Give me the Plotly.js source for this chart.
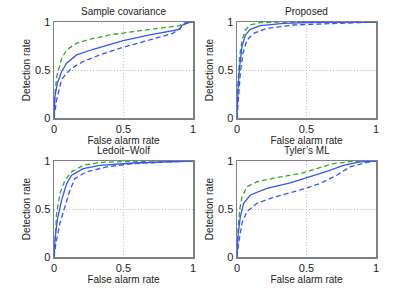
<!DOCTYPE html>
<html><head><meta charset="utf-8">
<script src="https://cdn.plot.ly/plotly-3.0.1.min.js"></script>
<style>html,body{margin:0;padding:0;background:#fff}#chart{width:415px;height:293px}</style>
</head><body><div id="chart"></div>
<script>
// Panel titles
const panelTitles = ["Sample covariance", "Proposed", "Ledoit\u2212Wolf", "Tyler\u2019s ML"];
const xTitle = "False alarm rate";
const yTitle = "Detection rate";
const tickVals = [0, 0.5, 1];
const tickText = ["0", "0.5", "1"];

// Sample covariance
const scSolidX = [0, 0.003, 0.007, 0.024, 0.055, 0.091, 0.163, 0.282, 0.498, 0.689, 0.904, 0.916, 0.952, 1];
const scSolidY = [0, 0.12, 0.225, 0.363, 0.484, 0.571, 0.657, 0.716, 0.806, 0.865, 0.924, 0.958, 0.993, 1];
const scBlueDashX = [0, 0.008, 0.019, 0.055, 0.091, 0.127, 0.21, 0.33, 0.498, 0.689, 0.856, 0.916, 0.952, 1];
const scBlueDashY = [0, 0.08, 0.19, 0.40, 0.467, 0.519, 0.588, 0.657, 0.737, 0.813, 0.882, 0.945, 0.986, 1];
const scGreenDashX = [0, 0.004, 0.019, 0.055, 0.091, 0.163, 0.258, 0.40, 0.57, 0.737, 0.904, 0.923, 1];
const scGreenDashY = [0, 0.2, 0.43, 0.62, 0.71, 0.78, 0.82, 0.865, 0.90, 0.934, 0.962, 0.986, 1];

// Proposed
const prSolidX = [0, 0.003, 0.007, 0.019, 0.036, 0.06, 0.096, 0.167, 0.335, 0.574, 1];
const prSolidY = [0, 0.15, 0.294, 0.536, 0.744, 0.865, 0.924, 0.962, 0.986, 0.997, 1];
const prBlueDashX = [0, 0.005, 0.012, 0.024, 0.043, 0.072, 0.12, 0.215, 0.407, 0.694, 1];
const prBlueDashY = [0, 0.1, 0.225, 0.467, 0.675, 0.813, 0.882, 0.934, 0.969, 0.986, 1];
const prGreenDashX = [0, 0.003, 0.007, 0.019, 0.036, 0.06, 0.096, 0.167, 0.335, 1];
const prGreenDashY = [0, 0.2, 0.363, 0.64, 0.81, 0.917, 0.969, 0.993, 1, 1];

// Ledoit-Wolf
const lwSolidX = [0, 0.007, 0.024, 0.055, 0.091, 0.127, 0.21, 0.33, 0.57, 0.81, 1];
const lwSolidY = [0, 0.18, 0.39, 0.595, 0.766, 0.852, 0.921, 0.955, 0.979, 0.993, 1];
const lwBlueDashX = [0, 0.014, 0.043, 0.079, 0.115, 0.151, 0.234, 0.378, 0.57, 0.81, 1];
const lwBlueDashY = [0, 0.148, 0.354, 0.526, 0.698, 0.818, 0.887, 0.938, 0.973, 0.99, 1];
const lwGreenDashX = [0, 0.007, 0.019, 0.043, 0.079, 0.127, 0.21, 0.33, 0.57, 1];
const lwGreenDashY = [0, 0.216, 0.457, 0.663, 0.80, 0.887, 0.955, 0.986, 0.997, 1];

// Tyler's ML
const tySolidX = [0, 0.007, 0.024, 0.048, 0.096, 0.215, 0.383, 0.526, 0.646, 0.766, 0.885, 1];
const tySolidY = [0, 0.216, 0.423, 0.56, 0.646, 0.715, 0.773, 0.835, 0.893, 0.955, 0.99, 1];
const tyBlueDashX = [0, 0.012, 0.036, 0.072, 0.144, 0.263, 0.455, 0.598, 0.718, 0.813, 0.933, 1];
const tyBlueDashY = [0, 0.148, 0.354, 0.474, 0.56, 0.622, 0.698, 0.766, 0.852, 0.938, 0.986, 1];
const tyGreenDashX = [0, 0.007, 0.019, 0.036, 0.072, 0.144, 0.287, 0.455, 0.574, 0.694, 0.813, 1];
const tyGreenDashY = [0, 0.285, 0.49, 0.629, 0.732, 0.784, 0.828, 0.869, 0.921, 0.973, 0.993, 1];

const blue = "#3355ff";
const green = "#33aa22";
const dashPat = "5px,3px";

const panels = [
  [scSolidX, scSolidY, scBlueDashX, scBlueDashY, scGreenDashX, scGreenDashY],
  [prSolidX, prSolidY, prBlueDashX, prBlueDashY, prGreenDashX, prGreenDashY],
  [lwSolidX, lwSolidY, lwBlueDashX, lwBlueDashY, lwGreenDashX, lwGreenDashY],
  [tySolidX, tySolidY, tyBlueDashX, tyBlueDashY, tyGreenDashX, tyGreenDashY]
];

const traces = [];
panels.forEach((p, i) => {
  const xa = i === 0 ? "x" : "x" + (i + 1);
  const ya = i === 0 ? "y" : "y" + (i + 1);
  traces.push({x: p[4], y: p[5], xaxis: xa, yaxis: ya, mode: "lines", line: {color: green, width: 1.3, dash: dashPat}});
  traces.push({x: p[2], y: p[3], xaxis: xa, yaxis: ya, mode: "lines", line: {color: blue, width: 1.3, dash: dashPat}});
  traces.push({x: p[0], y: p[1], xaxis: xa, yaxis: ya, mode: "lines", line: {color: blue, width: 1.3}});
});

const fam = "Liberation Sans, Arial, sans-serif";
const txtColor = "#222";
const xDomains = [[54/415, 193/415], [237/415, 376/415]];
const yDomains = [[(293-118)/293, (293-22)/293], [(293-257)/293, (293-161)/293]];

const layout = {
  width: 415, height: 293,
  margin: {l: 0, r: 0, t: 0, b: 0},
  paper_bgcolor: "#fff", plot_bgcolor: "#fff",
  showlegend: false,
  font: {family: fam, size: 10, color: txtColor},
  annotations: []
};

for (let i = 0; i < 4; i++) {
  const col = i % 2, row = Math.floor(i / 2);
  const sfx = i === 0 ? "" : String(i + 1);
  const axCommon = {
    range: [0, 1], tickvals: tickVals, ticktext: tickText,
    showline: true, mirror: true, linecolor: "#808080", linewidth: 1.5,
    showgrid: true, gridcolor: "#bdbdbd", griddash: "1px,2px", gridwidth: 1,
    zeroline: false, ticks: "", fixedrange: true,
    tickfont: {family: fam, size: 11, color: txtColor}
  };
  layout["xaxis" + sfx] = Object.assign({}, axCommon, {
    domain: xDomains[col], anchor: "y" + sfx,
    title: {text: xTitle, font: {family: fam, size: 10, color: txtColor}, standoff: 2}
  });
  layout["yaxis" + sfx] = Object.assign({}, axCommon, {
    domain: yDomains[row], anchor: "x" + sfx,
    title: {text: yTitle, font: {family: fam, size: 10, color: txtColor}, standoff: 2}
  });
  layout.annotations.push({
    text: panelTitles[i], xref: "paper", yref: "paper",
    x: (xDomains[col][0] + xDomains[col][1]) / 2, y: yDomains[row][1],
    xanchor: "center", yanchor: "bottom", yshift: 3, showarrow: false,
    font: {family: fam, size: 10, color: txtColor}
  });
}

Plotly.newPlot("chart", traces, layout, {displayModeBar: false, staticPlot: true});
</script>
</body></html>
